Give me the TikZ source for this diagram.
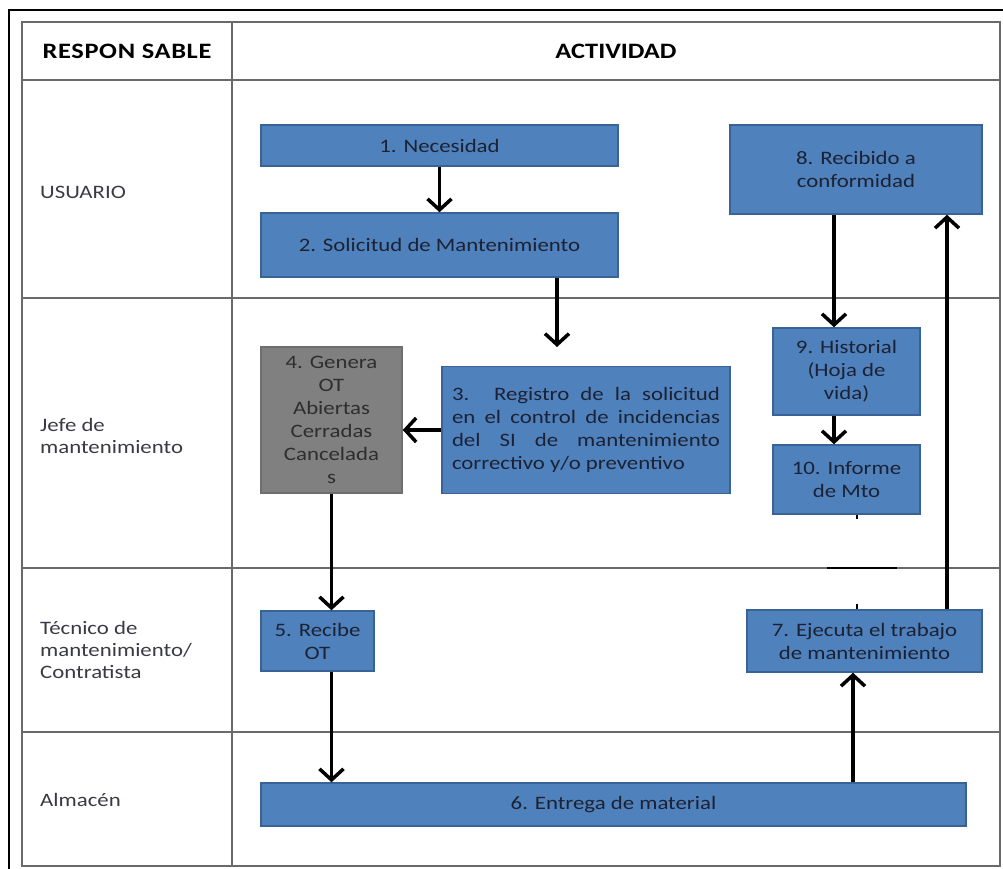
\documentclass[tikz,border=0pt]{standalone}
\usepackage{fontspec}
\setmainfont{Carlito}[FakeStretch=1.2]
\usetikzlibrary{shapes}
\usetikzlibrary{arrows.meta}

\definecolor{cajaazul}{HTML}{4F81BD}
\definecolor{bordeazul}{HTML}{3A6395}
\definecolor{textocaja}{HTML}{1C2233}
\definecolor{cajagrisf}{HTML}{808080}
\definecolor{bordegris}{HTML}{6E6E6E}
\definecolor{textogris}{HTML}{2E2E2E}
\definecolor{lineatabla}{HTML}{6A6A6A}
\definecolor{textorol}{HTML}{3A3A44}

\begin{document}
\begin{tikzpicture}[x=1pt,y=-1pt]
					\tikzstyle{caja}=[rectangle,draw=bordeazul,fill=cajaazul,line width=1.5pt,inner sep=0pt,text=textocaja,font=\fontsize{19}{23}\selectfont,align=center]
					\tikzstyle{cajagris}=[caja,draw=bordegris,fill=cajagrisf,text=textogris]
					\tikzstyle{flecha}=[->,>={Straight Barb[length=11pt,width=24pt]},line width=3.5pt]
					\tikzstyle{linea}=[draw=lineatabla,line width=2pt]
					\tikzstyle{rol}=[anchor=west,align=left,inner sep=0pt,text=textorol,font=\fontsize{19}{22}\selectfont]
					\tikzstyle{titulo}=[inner sep=0pt,text=black,font=\fontsize{22}{24}\selectfont\bfseries]
					\clip (0,0) rectangle (1003,869);
					\draw[black,line width=1.5pt] (9,10) rectangle (1020,890);
					% tabla
					\draw[linea] (22,22) rectangle (1000,866);
					\draw[linea] (232,22) -- (232,866);
					\foreach \y in {80,298,568,732}
						\draw[linea] (22,\y) -- (1000,\y);
					\node[titulo] (resp) at (127,51) {\addfontfeature{LetterSpace=3}RESPON SABLE};
					\node[titulo] (act) at (616,51) {ACTIVIDAD};
					\node[rol] (usuario) at (40,192) {USUARIO};
					\node[rol] (jefe) at (40,436) {Jefe de\\mantenimiento};
					\node[rol] (tecnico) at (40,650) {Técnico de\\mantenimiento/\\Contratista};
					\node[rol] (almacen) at (40,800) {Almacén};
					% actividades
					\node[caja,minimum width=357pt,minimum height=41pt] (n1) at (439.5,145.5) {1. Necesidad};
					\node[caja,minimum width=357pt,minimum height=64pt] (n2) at (439.5,245) {2. Solicitud de Mantenimiento};
					\node[caja,minimum width=288pt,minimum height=127pt,text width=268pt,align=justify] (n3) at (586,430) {3. Registro de la solicitud\linebreak en el control de incidencias\linebreak del SI de mantenimiento\linebreak correctivo y/o preventivo};
					\node[cajagris,minimum width=141pt,minimum height=146pt] (n4) at (331.5,420) {4. Genera\\OT\\Abiertas\\Cerradas\\Cancelada\\s};
					\node[caja,minimum width=113pt,minimum height=60pt] (n5) at (317.5,641) {5. Recibe\\OT};
					\node[caja,minimum width=705pt,minimum height=43pt] (n6) at (613.5,804.5) {6. Entrega de material};
					\node[caja,minimum width=235pt,minimum height=62pt] (n7) at (864.5,641) {7. Ejecuta el trabajo\\de mantenimiento};
					\node[caja,minimum width=252pt,minimum height=89pt] (n8) at (856,169.5) {8. Recibido a\\conformidad};
					\node[caja,minimum width=147pt,minimum height=87pt] (n9) at (846.5,371.5) {9. Historial\\(Hoja de\\vida)};
					\node[caja,minimum width=147pt,minimum height=69pt] (n10) at (846.5,479.5) {10. Informe\\de Mto};
					\coordinate (a3) at (557,347);
					% flechas
					\draw[flecha] (n1) -- (n2);
					\draw[flecha] (n2.south -| a3) -- (a3);
					\draw[flecha] (n3.west) -- (n4.east |- n3.west);
					\draw[flecha] (n4.south) -- (n4.south |- n5.north);
					\draw[flecha] (n4.south |- n5.south) -- (n4.south |- n6.north);
					\draw[flecha] (n6.north -| 853,0) -- (n7.south -| 853,0);
					\draw[flecha] (n7.north -| 947,0) -- (n8.south -| 947,0);
					\draw[flecha] (n8.south -| 834,0) -- (n9.north -| 834,0);
					\draw[flecha] (n9.south -| 834,0) -- (n10.north -| 834,0);
					\draw[line width=2.5pt] (827,568) -- (897,568);
					\draw[line width=2pt] (n10.south -| 857,0) -- ++(0,4);
					\draw[line width=2pt] (n7.north -| 857,0) -- ++(0,-5);
\end{tikzpicture}
\end{document}
